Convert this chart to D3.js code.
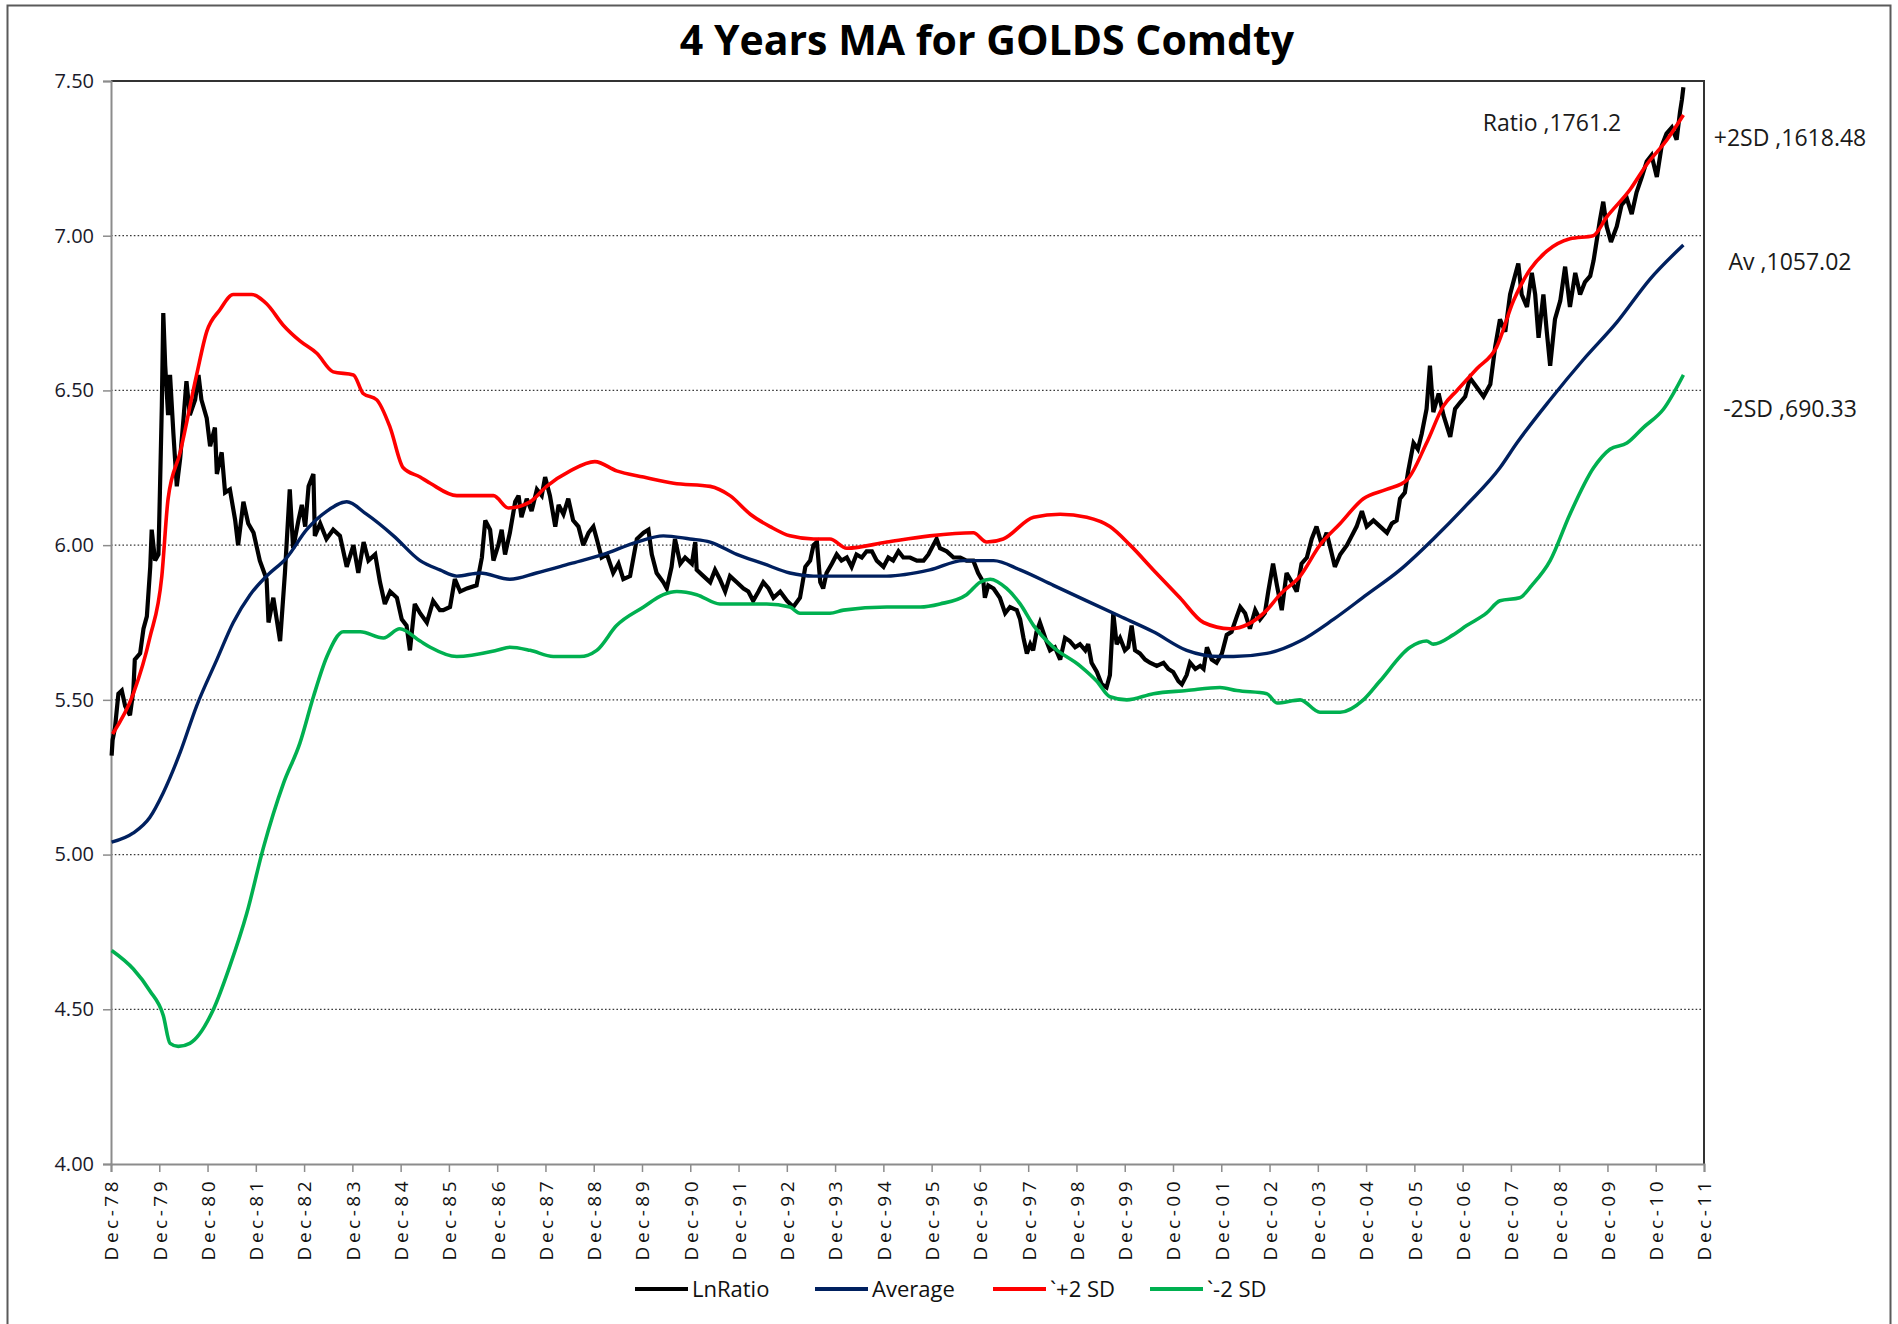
<!DOCTYPE html>
<html>
<head>
<meta charset="utf-8">
<script src="https://cdn.jsdelivr.net/npm/d3@7"></script>
<style>
  html, body { margin: 0; padding: 0; background: #fff; }
  svg { display: block; font-family: "Open Sans", "Liberation Sans", sans-serif; }
</style>
</head>
<body>
<svg id="chart" width="1898" height="1324"></svg>
<script>
// ---------------- DATA (decimal years, values are ln ratio) ----------------
const tickLabels = ["Dec-78","Dec-79","Dec-80","Dec-81","Dec-82","Dec-83","Dec-84","Dec-85","Dec-86","Dec-87","Dec-88","Dec-89","Dec-90","Dec-91","Dec-92","Dec-93","Dec-94","Dec-95","Dec-96","Dec-97","Dec-98","Dec-99","Dec-00","Dec-01","Dec-02","Dec-03","Dec-04","Dec-05","Dec-06","Dec-07","Dec-08","Dec-09","Dec-10","Dec-11"];
const yTicks = [4.0, 4.5, 5.0, 5.5, 6.0, 6.5, 7.0, 7.5];

const lnRatioYears = [1978.93,1978.95,1979.00,1979.07,1979.14,1979.21,1979.31,1979.38,1979.41,1979.52,1979.59,1979.66,1979.73,1979.76,1979.83,1979.90,1979.93,1979.97,1980.00,1980.04,1980.10,1980.14,1980.21,1980.28,1980.35,1980.42,1980.48,1980.55,1980.66,1980.73,1980.79,1980.90,1980.97,1981.07,1981.11,1981.21,1981.28,1981.38,1981.49,1981.55,1981.66,1981.76,1981.87,1982.00,1982.14,1982.18,1982.28,1982.42,1982.52,1982.62,1982.69,1982.80,1982.87,1982.94,1983.01,1983.11,1983.14,1983.25,1983.38,1983.52,1983.66,1983.80,1983.94,1984.04,1984.15,1984.25,1984.39,1984.49,1984.59,1984.70,1984.84,1984.94,1985.04,1985.11,1985.21,1985.32,1985.46,1985.59,1985.73,1985.80,1985.94,1986.04,1986.15,1986.29,1986.49,1986.60,1986.67,1986.77,1986.84,1986.94,1987.01,1987.08,1987.18,1987.29,1987.36,1987.42,1987.53,1987.63,1987.74,1987.84,1987.91,1988.01,1988.12,1988.19,1988.29,1988.39,1988.49,1988.60,1988.70,1988.81,1988.91,1988.98,1989.08,1989.19,1989.32,1989.43,1989.53,1989.67,1989.81,1989.95,1990.05,1990.12,1990.22,1990.36,1990.43,1990.53,1990.60,1990.71,1990.81,1990.95,1991.02,1991.05,1991.19,1991.33,1991.43,1991.53,1991.64,1991.74,1991.88,1992.02,1992.12,1992.22,1992.33,1992.43,1992.54,1992.64,1992.78,1992.92,1993.05,1993.19,1993.30,1993.40,1993.47,1993.54,1993.61,1993.67,1993.74,1993.85,1993.95,1994.05,1994.16,1994.26,1994.36,1994.47,1994.57,1994.68,1994.78,1994.92,1995.02,1995.12,1995.23,1995.33,1995.47,1995.61,1995.75,1995.85,1995.95,1996.02,1996.09,1996.23,1996.37,1996.51,1996.64,1996.78,1996.88,1996.99,1997.02,1997.09,1997.20,1997.33,1997.44,1997.54,1997.68,1997.75,1997.82,1997.89,1997.96,1998.02,1998.09,1998.16,1998.27,1998.37,1998.47,1998.58,1998.68,1998.78,1998.89,1998.99,1999.10,1999.16,1999.23,1999.34,1999.44,1999.54,1999.61,1999.68,1999.75,1999.82,1999.92,1999.99,2000.06,2000.13,2000.23,2000.34,2000.44,2000.58,2000.72,2000.82,2000.92,2001.03,2001.10,2001.20,2001.27,2001.38,2001.48,2001.55,2001.62,2001.72,2001.82,2001.93,2002.03,2002.13,2002.24,2002.31,2002.41,2002.51,2002.62,2002.72,2002.82,2002.89,2002.99,2003.07,2003.17,2003.27,2003.38,2003.48,2003.58,2003.69,2003.79,2003.89,2004.00,2004.10,2004.21,2004.27,2004.38,2004.52,2004.62,2004.72,2004.83,2004.93,2005.07,2005.21,2005.35,2005.45,2005.55,2005.62,2005.72,2005.79,2005.90,2005.99,2006.07,2006.17,2006.24,2006.31,2006.42,2006.52,2006.66,2006.76,2006.86,2006.97,2007.07,2007.21,2007.35,2007.49,2007.59,2007.69,2007.80,2007.90,2008.00,2008.07,2008.14,2008.25,2008.35,2008.42,2008.49,2008.59,2008.66,2008.73,2008.83,2008.94,2009.04,2009.14,2009.25,2009.35,2009.45,2009.56,2009.63,2009.70,2009.76,2009.83,2009.90,2009.99,2010.11,2010.21,2010.32,2010.42,2010.52,2010.63,2010.73,2010.83,2010.94,2011.04,2011.14,2011.25,2011.35,2011.42,2011.46,2011.49];
const lnRatioValues = [5.32,5.37,5.41,5.52,5.53,5.48,5.45,5.53,5.63,5.65,5.73,5.77,5.93,6.05,5.95,5.97,6.17,6.45,6.75,6.58,6.42,6.55,6.36,6.19,6.28,6.41,6.53,6.42,6.47,6.55,6.47,6.41,6.32,6.38,6.23,6.30,6.17,6.18,6.08,6.00,6.14,6.07,6.04,5.95,5.89,5.75,5.83,5.69,5.91,6.18,5.99,6.08,6.13,6.06,6.19,6.23,6.03,6.07,6.02,6.05,6.03,5.93,6.00,5.91,6.01,5.95,5.97,5.88,5.81,5.85,5.83,5.76,5.74,5.66,5.81,5.78,5.75,5.82,5.79,5.79,5.80,5.89,5.85,5.86,5.87,5.96,6.08,6.05,5.95,6.00,6.05,5.97,6.04,6.14,6.16,6.09,6.15,6.11,6.18,6.16,6.22,6.16,6.06,6.13,6.10,6.15,6.08,6.06,6.00,6.04,6.06,6.02,5.96,5.97,5.91,5.94,5.89,5.90,6.02,6.04,6.05,5.97,5.91,5.88,5.86,5.93,6.02,5.94,5.96,5.94,6.01,5.92,5.90,5.88,5.92,5.89,5.85,5.90,5.88,5.86,5.85,5.82,5.85,5.88,5.86,5.83,5.85,5.82,5.80,5.83,5.93,5.95,6.00,6.01,5.88,5.86,5.91,5.94,5.97,5.95,5.96,5.93,5.97,5.96,5.98,5.98,5.95,5.93,5.96,5.95,5.98,5.96,5.96,5.95,5.95,5.97,6.00,6.02,5.99,5.98,5.96,5.96,5.95,5.95,5.91,5.88,5.83,5.87,5.86,5.83,5.78,5.80,5.79,5.76,5.70,5.65,5.68,5.66,5.72,5.75,5.70,5.66,5.67,5.63,5.70,5.69,5.67,5.68,5.66,5.68,5.62,5.59,5.55,5.54,5.58,5.78,5.68,5.70,5.66,5.67,5.74,5.66,5.65,5.63,5.62,5.61,5.62,5.60,5.59,5.56,5.55,5.58,5.62,5.60,5.61,5.60,5.67,5.63,5.62,5.65,5.71,5.72,5.77,5.80,5.78,5.73,5.79,5.76,5.78,5.85,5.94,5.87,5.79,5.91,5.88,5.85,5.94,5.96,6.02,6.06,6.00,6.04,5.97,5.93,5.97,6.00,6.03,6.06,6.11,6.06,6.08,6.06,6.04,6.07,6.08,6.15,6.17,6.24,6.33,6.31,6.36,6.44,6.58,6.43,6.49,6.42,6.35,6.44,6.46,6.48,6.54,6.51,6.48,6.52,6.64,6.73,6.69,6.81,6.87,6.91,6.81,6.77,6.88,6.81,6.67,6.81,6.69,6.58,6.73,6.79,6.90,6.77,6.88,6.81,6.85,6.87,6.92,6.99,7.05,7.11,7.03,6.98,7.03,7.10,7.12,7.07,7.14,7.19,7.24,7.26,7.19,7.29,7.33,7.35,7.31,7.40,7.44,7.48];

const averageYears = [1978.93,1979.38,1979.72,1980.00,1980.35,1980.69,1981.11,1981.45,1981.80,1982.14,1982.56,1982.97,1983.39,1983.80,1984.21,1984.77,1985.32,1985.73,1986.08,1986.56,1987.18,1987.73,1988.43,1989.12,1989.81,1990.36,1990.91,1991.33,1991.88,1992.43,1992.98,1993.47,1994.99,1995.88,1996.57,1997.20,1997.75,1998.44,1999.13,1999.82,2000.51,2001.20,2001.89,2002.17,2002.86,2003.55,2004.24,2004.93,2005.62,2006.31,2007.00,2007.69,2008.04,2008.73,2009.42,2010.11,2010.80,2011.49];
const averageValues = [5.04,5.07,5.12,5.20,5.33,5.48,5.63,5.75,5.84,5.90,5.96,6.05,6.11,6.14,6.10,6.03,5.95,5.92,5.90,5.91,5.89,5.91,5.94,5.97,6.01,6.03,6.02,6.01,5.97,5.94,5.91,5.90,5.90,5.92,5.95,5.95,5.92,5.87,5.82,5.77,5.72,5.66,5.64,5.64,5.65,5.69,5.76,5.84,5.92,6.02,6.13,6.25,6.33,6.47,6.60,6.72,6.86,6.97];

const plus2SdYears = [1978.95,1979.38,1979.72,1979.97,1980.10,1980.35,1980.69,1980.90,1981.17,1981.45,1981.83,1982.14,1982.49,1982.83,1983.18,1983.52,1983.94,1984.14,1984.42,1984.70,1984.97,1985.32,1985.53,1986.08,1986.84,1987.15,1987.60,1987.94,1988.43,1988.94,1989.39,1989.95,1990.57,1991.33,1991.74,1992.16,1992.57,1992.98,1993.47,1993.81,1994.16,1994.99,1995.88,1996.78,1997.06,1997.40,1998.03,1998.58,1999.13,1999.61,2000.03,2000.51,2001.06,2001.55,2002.10,2002.86,2003.13,2003.55,2003.96,2004.38,2004.86,2005.34,2005.76,2006.17,2006.52,2006.80,2007.21,2007.62,2007.97,2008.31,2008.66,2009.14,2009.62,2009.90,2010.39,2010.73,2011.15,2011.49];
const plus2SdValues = [5.39,5.52,5.70,5.90,6.15,6.30,6.55,6.69,6.76,6.81,6.81,6.78,6.71,6.66,6.62,6.56,6.55,6.49,6.47,6.38,6.25,6.22,6.20,6.16,6.16,6.12,6.14,6.19,6.24,6.27,6.24,6.22,6.20,6.19,6.16,6.10,6.06,6.03,6.02,6.02,5.99,6.01,6.03,6.04,6.01,6.02,6.09,6.10,6.09,6.06,6.00,5.92,5.83,5.75,5.73,5.79,5.84,5.90,6.00,6.07,6.15,6.18,6.21,6.33,6.45,6.50,6.57,6.64,6.79,6.89,6.95,6.99,7.00,7.06,7.15,7.23,7.31,7.39];

const minus2SdYears = [1978.93,1979.38,1979.72,1980.00,1980.14,1980.31,1980.55,1981.04,1981.38,1981.73,1982.07,1982.49,1982.83,1983.11,1983.39,1983.73,1984.08,1984.56,1984.90,1985.32,1985.53,1986.08,1986.91,1987.18,1987.60,1988.08,1988.63,1988.98,1989.39,1989.95,1990.36,1990.64,1991.05,1991.53,1992.02,1992.50,1992.98,1993.19,1993.81,1994.09,1994.99,1995.68,1996.09,1996.64,1996.92,1997.13,1997.47,1997.75,1998.03,1998.44,1998.99,1999.34,1999.61,1999.96,2000.51,2001.20,2001.89,2002.24,2002.86,2003.07,2003.55,2003.96,2004.38,2004.86,2005.20,2005.83,2006.17,2006.31,2006.72,2007.00,2007.41,2007.69,2008.10,2008.35,2008.73,2009.14,2009.63,2009.97,2010.32,2010.66,2011.08,2011.49];
const minus2SdValues = [4.69,4.63,4.56,4.48,4.39,4.38,4.39,4.50,4.64,4.81,5.02,5.23,5.36,5.51,5.64,5.72,5.72,5.70,5.73,5.69,5.67,5.64,5.66,5.67,5.66,5.64,5.64,5.66,5.74,5.80,5.84,5.85,5.84,5.81,5.81,5.81,5.80,5.78,5.78,5.79,5.80,5.80,5.81,5.84,5.88,5.89,5.86,5.81,5.74,5.67,5.61,5.56,5.51,5.50,5.52,5.53,5.54,5.53,5.52,5.49,5.50,5.46,5.46,5.50,5.56,5.67,5.69,5.68,5.71,5.74,5.78,5.82,5.83,5.87,5.95,6.10,6.25,6.31,6.33,6.38,6.44,6.55];

const seriesNames = ["LnRatio", "Average", "`+2 SD", "`-2 SD"];
const seriesColors = ["#000000", "#00205f", "#ff0000", "#00b050"];
const annotationTexts = ["Ratio ,1761.2", "+2SD ,1618.48", "Av ,1057.02", "-2SD ,690.33"];
const titleText = "4 Years MA for GOLDS Comdty";

// ---------------- LAYOUT ----------------
const svg = d3.select("#chart");
const plot = { left: 111, right: 1704, top: 81, bottom: 1164 };
const firstTickYear = 1978.917;
const tickYears = tickLabels.map((d, i) => firstTickYear + i);

const x = d3.scaleLinear().domain([tickYears[0], tickYears[tickYears.length - 1]]).range([plot.left, plot.right]);
const y = d3.scaleLinear().domain([4.0, 7.5]).range([plot.bottom, plot.top]);

// outer chart border
svg.append("rect").attr("x", 7.5).attr("y", 5.5).attr("width", 1883).attr("height", 1330)
  .attr("fill", "#fff").attr("stroke", "#5a5a5a").attr("stroke-width", 2);

// title
svg.append("text").attr("x", 987).attr("y", 55).attr("text-anchor", "middle")
  .attr("font-size", 41).attr("font-weight", 700).attr("fill", "#000").text(titleText);

// gridlines (dotted)
svg.append("g").selectAll("line").data(yTicks.filter(v => v > 4.0 && v < 7.5)).join("line")
  .attr("x1", plot.left).attr("x2", plot.right)
  .attr("y1", d => y(d)).attr("y2", d => y(d))
  .attr("stroke", "#3a3a3a").attr("stroke-width", 1.3).attr("stroke-dasharray", "1.6,2.2");

// plot area border (top/right dark)
svg.append("path")
  .attr("d", `M${plot.left},${plot.top}H${plot.right}V${plot.bottom}`)
  .attr("fill", "none").attr("stroke", "#333").attr("stroke-width", 2);

// Y axis
const yAxis = d3.axisLeft(y).tickValues(yTicks).tickFormat(d3.format(".2f")).tickSize(8).tickPadding(9);
const gy = svg.append("g").attr("transform", `translate(${plot.left},0)`).call(yAxis);
gy.select(".domain").attr("stroke", "#8c8c8c").attr("stroke-width", 2);
gy.selectAll(".tick line").attr("stroke", "#8c8c8c").attr("stroke-width", 1.5);
gy.selectAll(".tick text").attr("font-size", 20).attr("fill", "#1a1a2a")
  .attr("font-family", "'Open Sans', sans-serif");

// X axis
const xAxis = d3.axisBottom(x).tickValues(tickYears).tickFormat((d, i) => tickLabels[i]).tickSize(8).tickPadding(0);
const gx = svg.append("g").attr("transform", `translate(0,${plot.bottom})`).call(xAxis);
gx.select(".domain").attr("stroke", "#8c8c8c").attr("stroke-width", 2);
gx.selectAll(".tick line").attr("stroke", "#8c8c8c").attr("stroke-width", 1.5);
gx.selectAll(".tick text")
  .attr("font-size", 19).attr("fill", "#111").attr("letter-spacing", "3.5px")
  .attr("font-family", "'Open Sans', sans-serif")
  .attr("text-anchor", "end").attr("transform", "rotate(-90)")
  .attr("x", -14).attr("y", 0).attr("dy", "0.36em");

// series
const seriesData = [
  lnRatioYears.map((t, i) => [t, lnRatioValues[i]]),
  averageYears.map((t, i) => [t, averageValues[i]]),
  plus2SdYears.map((t, i) => [t, plus2SdValues[i]]),
  minus2SdYears.map((t, i) => [t, minus2SdValues[i]])
];
const widths = [4.2, 3.4, 3.6, 3.6];
const lineLinear = d3.line().x(d => x(d[0])).y(d => y(d[1]));
const lineSmooth = d3.line().x(d => x(d[0])).y(d => y(d[1])).curve(d3.curveMonotoneX);
svg.append("g").selectAll("path").data(seriesData).join("path")
  .attr("d", (d, i) => i === 0 ? lineLinear(d) : lineSmooth(d))
  .attr("fill", "none")
  .attr("stroke", (d, i) => seriesColors[i])
  .attr("stroke-width", (d, i) => widths[i])
  .attr("stroke-linejoin", "miter")
  .attr("stroke-miterlimit", 3)
  .attr("stroke-linecap", "butt");

// annotations
const annPos = [[1552, 131], [1790, 146], [1790, 270], [1790, 417]];
svg.append("g").selectAll("text").data(annotationTexts).join("text")
  .attr("x", (d, i) => annPos[i][0]).attr("y", (d, i) => annPos[i][1])
  .attr("text-anchor", "middle").attr("font-size", 23).attr("fill", "#1a1a1a")
  .text(d => d);

// legend
const legendX = [635, 815, 993, 1150];
const legendY = 1289;
const lg = svg.append("g").selectAll("g").data(seriesNames).join("g")
  .attr("transform", (d, i) => `translate(${legendX[i]},${legendY})`);
lg.append("line").attr("x1", 0).attr("x2", 53).attr("y1", 0).attr("y2", 0)
  .attr("stroke", (d, i) => seriesColors[i]).attr("stroke-width", 4);
lg.append("text").attr("x", 57).attr("y", 0).attr("dy", "0.35em")
  .attr("font-size", 22).attr("fill", "#111").text(d => d);
</script>
</body>
</html>
